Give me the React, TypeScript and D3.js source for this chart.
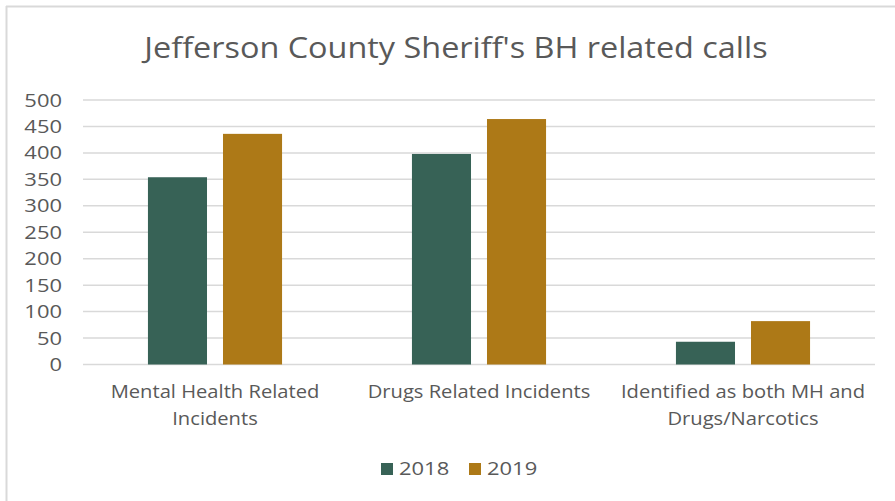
import React from "react";
import * as d3 from "d3";

const categories: string[][] = [
  ["Mental Health Related", "Incidents"],
  ["Drugs Related Incidents"],
  ["Identified as both MH and", "Drugs/Narcotics"],
];
const categoryKeys = ["mh", "drugs", "both"];
const seriesNames = ["2018", "2019"];
const values2018 = [354, 398, 43];
const values2019 = [436, 464, 82];
const yTicks = [0, 50, 100, 150, 200, 250, 300, 350, 400, 450, 500];
const title = "Jefferson County Sheriff's BH related calls";

const colors = ["#376256", "#AD7917"];
const textColor = "#595959";
const font = "'Open Sans', 'DejaVu Sans', sans-serif";

function SText({
  x,
  y,
  sx,
  anchor,
  size,
  children,
}: {
  x: number;
  y: number;
  sx: number;
  anchor: "start" | "middle" | "end";
  size: number;
  children: React.ReactNode;
}) {
  return (
    <text
      transform={`translate(${x},${y}) scale(${sx},1)`}
      textAnchor={anchor}
      fill={textColor}
      fontFamily={font}
      fontSize={size}
    >
      {children}
    </text>
  );
}

export default function App() {
  const W = 895, H = 501;
  const left = 83, right = 875, top = 100, bottom = 364.5;
  const y = d3.scaleLinear().domain([0, 500]).range([bottom, top]);
  const x0 = d3.scaleBand().domain(categoryKeys).range([left, right]).padding(0);
  const bw = x0.bandwidth();
  const x1 = d3
    .scaleBand()
    .domain(seriesNames)
    .range([bw * 0.246, bw * 0.754])
    .paddingInner(0.213)
    .paddingOuter(0);
  const series = [values2018, values2019];

  return (
    <svg width={W} height={H} style={{ position: "absolute", left: 0, top: 0, background: "#fff" }}>
      <rect x={0} y={0} width={W} height={H} fill="#fff" />
      <line x1={6} y1={6.5} x2={W} y2={6.5} stroke="#d9d9d9" strokeWidth={2} />
      <line x1={6.5} y1={6} x2={6.5} y2={H} stroke="#d9d9d9" strokeWidth={2} />
      <SText x={456} y={58} sx={1.08} anchor="middle" size={30}>
        {title}
      </SText>
      {yTicks.map((t) => (
        <g key={t}>
          <line x1={left} x2={right} y1={y(t)} y2={y(t)} stroke="#d9d9d9" strokeWidth={1.5} />
          <SText x={62} y={y(t) + 6.5} sx={1.22} anchor="end" size={18}>
            {t}
          </SText>
        </g>
      ))}
      {categoryKeys.map((c, i) => (
        <g key={c} transform={`translate(${x0(c)},0)`}>
          {seriesNames.map((s, j) => (
            <rect
              key={s}
              x={x1(s)}
              y={y(series[j][i])}
              width={x1.bandwidth()}
              height={y(0) - y(series[j][i])}
              fill={colors[j]}
            />
          ))}
          {categories[i].map((line, k) => (
            <SText key={k} x={bw / 2} y={398 + k * 27} sx={1.12} anchor="middle" size={18}>
              {line}
            </SText>
          ))}
        </g>
      ))}
      {seriesNames.map((s, j) => (
        <g key={s} transform={`translate(${381 + j * 88},0)`}>
          <rect x={0} y={463} width={12} height={12} fill={colors[j]} />
          <SText x={18} y={475} sx={1.22} anchor="start" size={18}>
            {s}
          </SText>
        </g>
      ))}
    </svg>
  );
}
